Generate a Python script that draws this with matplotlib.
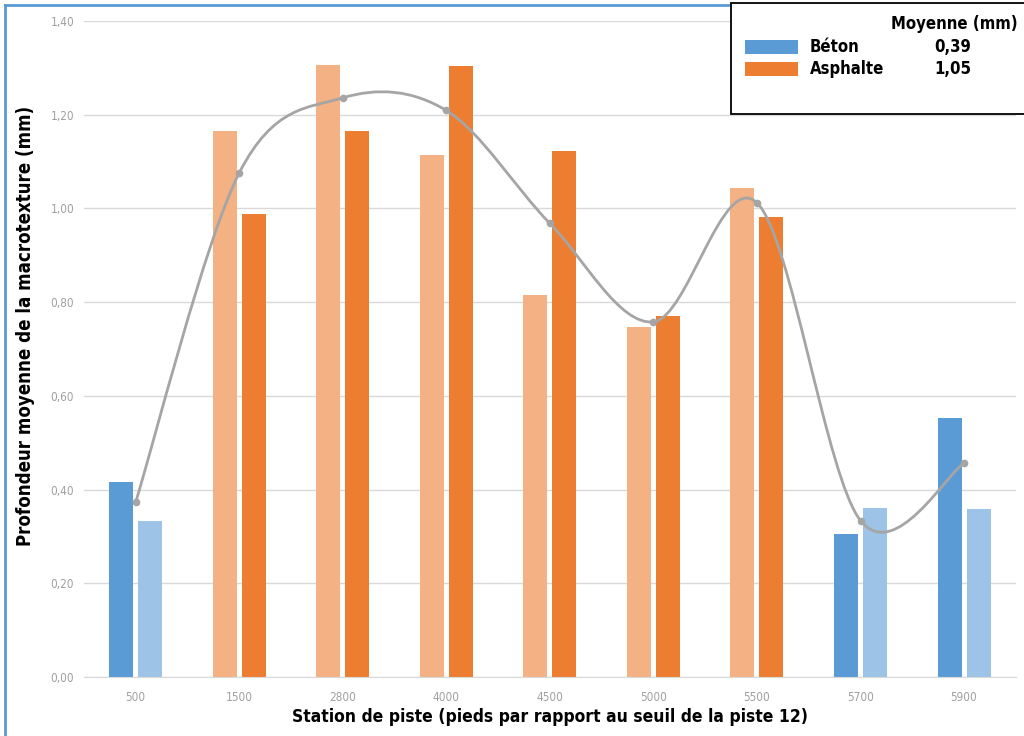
import numpy as np
import matplotlib.pyplot as plt
from matplotlib.patches import Rectangle
from matplotlib.path import Path
from matplotlib.patches import PathPatch
from matplotlib.ticker import FuncFormatter

# --- Données ---
stations = ['500', '1500', '2800', '4000', '4500', '5000', '5500', '5700', '5900']
barre_gauche = [0.416, 1.165, 1.306, 1.113, 0.815, 0.747, 1.043, 0.305, 0.553]
barre_droite = [0.333, 0.988, 1.165, 1.303, 1.122, 0.770, 0.982, 0.361, 0.358]
# type de revêtement par station: 'b' = béton, 'a' = asphalte
revetement = ['b', 'a', 'a', 'a', 'a', 'a', 'a', 'b', 'b']
courbe = [0.374, 1.076, 1.236, 1.209, 0.968, 0.758, 1.012, 0.334, 0.456]
legende_noms = ['Béton', 'Asphalte']
legende_moyennes = ['0,39', '1,05']

couleurs = {
    'b': ('#5B9BD5', '#9DC3E6'),   # béton: foncé, clair
    'a': ('#F4B183', '#ED7D31'),   # asphalte: clair, foncé
}

police = dict(family='DejaVu Sans', fontstretch='condensed', fontweight='bold')

fig = plt.figure(figsize=(10.24, 7.36), dpi=100)
ax = fig.add_axes([0.082, 0.080, 0.910, 0.8915])

x = np.arange(len(stations))
width = 0.232
off = 0.14
c_gauche = [couleurs[r][0] for r in revetement]
c_droite = [couleurs[r][1] for r in revetement]
ax.bar(x - off, barre_gauche, width, color=c_gauche, zorder=2)
ax.bar(x + off, barre_droite, width, color=c_droite, zorder=2)

# courbe lissée (Bézier type Excel)
pts = np.column_stack([x, courbe])
verts = [pts[0]]
codes = [Path.MOVETO]
for i in range(len(pts) - 1):
    p0 = pts[i - 1] if i > 0 else pts[i]
    p1 = pts[i]
    p2 = pts[i + 1]
    p3 = pts[i + 2] if i + 2 < len(pts) else pts[i + 1]
    verts += [p1 + (p2 - p0) / 6, p2 - (p3 - p1) / 6, p2]
    codes += [Path.CURVE4] * 3
ax.add_patch(PathPatch(Path(verts, codes), facecolor='none', edgecolor='#A5A5A5',
                       lw=2.0, zorder=3))
ax.plot(x, courbe, 'o', color='#A5A5A5', ms=4.5, zorder=4)

ax.set_xlim(-0.5, len(stations) - 0.5)
ax.set_ylim(0, 1.40)
ax.set_yticks(np.arange(0, 1.41, 0.2))
ax.yaxis.set_major_formatter(FuncFormatter(lambda v, p: f'{v:.2f}'.replace('.', ',')))
ax.set_xticks(x)
ax.set_xticklabels(stations)
ax.grid(axis='y', color='#D9D9D9', lw=1, zorder=0)
for s in ['top', 'right', 'left']:
    ax.spines[s].set_visible(False)
ax.spines['bottom'].set_color('#D9D9D9')
ax.tick_params(length=0, colors='#A0A0A0', labelsize=8.5, pad=10)
ax.tick_params(axis='y', pad=7)
for lab in ax.get_xticklabels() + ax.get_yticklabels():
    lab.set_fontstretch('condensed')

ax.set_xlabel('Station de piste (pieds par rapport au seuil de la piste 12)',
              fontsize=12.5, labelpad=3, **police)
ax.set_ylabel('Profondeur moyenne de la macrotexture (mm)', fontsize=13.4, **police)
ax.yaxis.set_label_coords(-0.0526, 0.535)

# cadre bleu de la figure
fig.add_artist(plt.Line2D([5 / 1024, 5 / 1024], [0, 1 - 5 / 736], color='#5B9BD5', lw=2))
fig.add_artist(plt.Line2D([5 / 1024, 1], [1 - 5 / 736, 1 - 5 / 736], color='#5B9BD5', lw=2))

# légende encadrée
W, H = 1024, 736
fig.add_artist(Rectangle((731 / W, 1 - 114 / H), 300 / W, 111 / H, transform=fig.transFigure,
                         facecolor='white', edgecolor='black', lw=1.3, zorder=5))
fig.text(954 / W, 1 - 24 / H, 'Moyenne (mm)', ha='center', va='center', fontsize=12,
         zorder=6, **police)
leg_cols = ['#5B9BD5', '#ED7D31']
for i, (nom, moy) in enumerate(zip(legende_noms, legende_moyennes)):
    yc = 47 + i * 22
    fig.add_artist(Rectangle((745 / W, 1 - (yc + 7) / H), 53 / W, 14 / H,
                             transform=fig.transFigure, facecolor=leg_cols[i],
                             edgecolor='none', zorder=6))
    fig.text(810 / W, 1 - yc / H, nom, ha='left', va='center', fontsize=12,
             zorder=6, **police)
    fig.text(953 / W, 1 - yc / H, moy, ha='center', va='center', fontsize=12,
             zorder=6, **police)

fig.savefig('out.png', dpi=100)
